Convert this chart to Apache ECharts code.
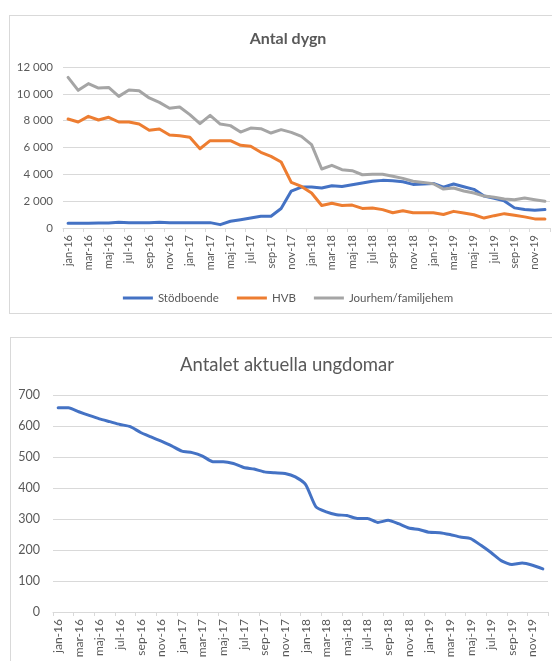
<!DOCTYPE html>
<html>
<head>
<meta charset="utf-8">
<script src="https://cdn.jsdelivr.net/npm/echarts@6/dist/echarts.min.js"></script>
<style>
  body { margin: 0; background: #fff; overflow: hidden; }
  .chart {
    position: absolute;
    border: 1px solid #d9d9d9;
    background-color: #fff;
  }
  #dygn { left: 9px; top: 15px; width: 556px; height: 297px; }
  #ungdomar { left: 10px; top: 337px; width: 552px; height: 330px; }
</style>
</head>
<body>
<div class="chart" id="dygn"></div>
<div class="chart" id="ungdomar"></div>
<script>
// months jan-16 .. dec-19
const monthNames = ['jan', 'feb', 'mar', 'apr', 'maj', 'jun', 'jul', 'aug', 'sep', 'okt', 'nov', 'dec']
const years = ['16', '17', '18', '19']
const categories = []
years.forEach(y => monthNames.forEach(m => categories.push(m + '-' + y)))

const yTicksDygn = [0, 2000, 4000, 6000, 8000, 10000, 12000]
const yTicksUngdomar = [0, 100, 200, 300, 400, 500, 600, 700]

const stodboende = [350, 350, 350, 370, 380, 430, 400, 400, 400, 420, 400, 390,
  400, 400, 400, 250, 500, 620, 750, 870, 880, 1450, 2750, 3050,
  3050, 2980, 3150, 3100, 3230, 3350, 3480, 3550, 3530, 3450, 3250, 3280,
  3320, 3050, 3280, 3080, 2880, 2380, 2220, 2020, 1500, 1380, 1330, 1380]

const hvb = [8120, 7900, 8320, 8050, 8250, 7900, 7900, 7750, 7280, 7380, 6930, 6880,
  6760, 5910, 6510, 6510, 6510, 6160, 6090, 5640, 5340, 4920, 3400, 3100,
  2610, 1680, 1840, 1680, 1710, 1460, 1490, 1370, 1140, 1290, 1140, 1140,
  1140, 1010, 1240, 1120, 990, 740, 920, 1070, 950, 830, 680, 680]

const jourhem = [11230, 10260, 10760, 10430, 10480, 9810, 10280, 10230, 9690, 9360, 8920, 9020,
  8450, 7780, 8400, 7750, 7630, 7150, 7450, 7400, 7080, 7330, 7130, 6830,
  6210, 4400, 4670, 4350, 4270, 3970, 4000, 4000, 3850, 3700, 3480, 3400,
  3300, 2900, 2980, 2760, 2610, 2380, 2290, 2160, 2110, 2240, 2110, 1990]

const ungdomar = [659, 659, 646, 634, 623, 614, 605, 598, 579, 565, 551, 536,
  519, 514, 503, 485, 485, 479, 466, 461, 452, 449, 447, 436,
  411, 339, 323, 314, 311, 302, 302, 289, 296, 285, 271, 266,
  257, 256, 250, 242, 237, 215, 191, 165, 153, 158, 151, 139]

const fontFamily = 'Lato, "Noto Sans", sans-serif'
const textGrey = '#595959'
const lineGrey = '#d9d9d9'

const spaceThousands = v => String(v).replace(/\B(?=(\d{3})+(?!\d))/g, ' ')

const xAxisBase = (labelSize) => ({
  type: 'category',
  data: categories,
  boundaryGap: true,
  axisLine: {lineStyle: {color: lineGrey, width: 1}},
  axisTick: {show: true, interval: 1, length: 4, alignWithLabel: false, lineStyle: {color: lineGrey}},
  axisLabel: {
    interval: 1,
    rotate: 90,
    margin: 7,
    color: textGrey,
    fontFamily: fontFamily,
    fontSize: labelSize
  },
  splitLine: {show: false}
})

const lineSeries = (name, data, color, smooth) => ({
  name: name,
  type: 'line',
  data: data,
  showSymbol: false,
  symbol: 'none',
  smooth: smooth,
  lineStyle: {color: color, width: 3, cap: 'round', join: 'round'},
  itemStyle: {color: color},
  animation: false
})

const initDygn = () => {
  var myChart = echarts.init(document.getElementById('dygn'))
  var option = {
    backgroundColor: '#fff',
    textStyle: {fontFamily: fontFamily},
    title: {
      text: 'Antal dygn',
      left: 'center',
      top: 15,
      padding: 0,
      textStyle: {fontFamily: fontFamily, fontSize: 16, fontWeight: 'bold', color: textGrey}
    },
    legend: {
      data: ['Stödboende', 'HVB', 'Jourhem/familjehem'],
      left: 'center',
      top: 271,
      icon: 'rect',
      itemWidth: 30,
      itemHeight: 3,
      itemGap: 18,
      textStyle: {fontFamily: fontFamily, fontSize: 11.5, color: textGrey}
    },
    grid: {left: 53, top: 51, width: 487, height: 161},
    xAxis: xAxisBase(11),
    yAxis: {
      type: 'value',
      min: yTicksDygn[0],
      max: yTicksDygn[yTicksDygn.length - 1],
      interval: yTicksDygn[1] - yTicksDygn[0],
      axisLine: {show: false},
      axisTick: {show: false},
      axisLabel: {color: textGrey, fontFamily: fontFamily, fontSize: 11.5, margin: 10, formatter: spaceThousands},
      splitLine: {lineStyle: {color: lineGrey, width: 1}}
    },
    series: [
      lineSeries('Stödboende', stodboende, '#4472C4', false),
      lineSeries('HVB', hvb, '#ED7D31', false),
      lineSeries('Jourhem/familjehem', jourhem, '#A5A5A5', false)
    ]
  }
  option && myChart.setOption(option)
}

const initUngdomar = () => {
  var myChart = echarts.init(document.getElementById('ungdomar'))
  var option = {
    backgroundColor: '#fff',
    textStyle: {fontFamily: fontFamily},
    title: {
      text: 'Antalet aktuella ungdomar',
      left: 'center',
      top: 18,
      padding: 0,
      textStyle: {fontFamily: fontFamily, fontSize: 18.5, fontWeight: 'normal', color: textGrey}
    },
    grid: {left: 42, top: 57, width: 495, height: 217},
    xAxis: xAxisBase(12),
    yAxis: {
      type: 'value',
      min: yTicksUngdomar[0],
      max: yTicksUngdomar[yTicksUngdomar.length - 1],
      interval: yTicksUngdomar[1] - yTicksUngdomar[0],
      axisLine: {show: false},
      axisTick: {show: false},
      axisLabel: {color: textGrey, fontFamily: fontFamily, fontSize: 12.5, margin: 13},
      splitLine: {lineStyle: {color: lineGrey, width: 1}}
    },
    series: [
      lineSeries('Antalet aktuella ungdomar', ungdomar, '#4472C4', 0.2)
    ]
  }
  option && myChart.setOption(option)
}

initDygn()
initUngdomar()
</script>
</body>
</html>
